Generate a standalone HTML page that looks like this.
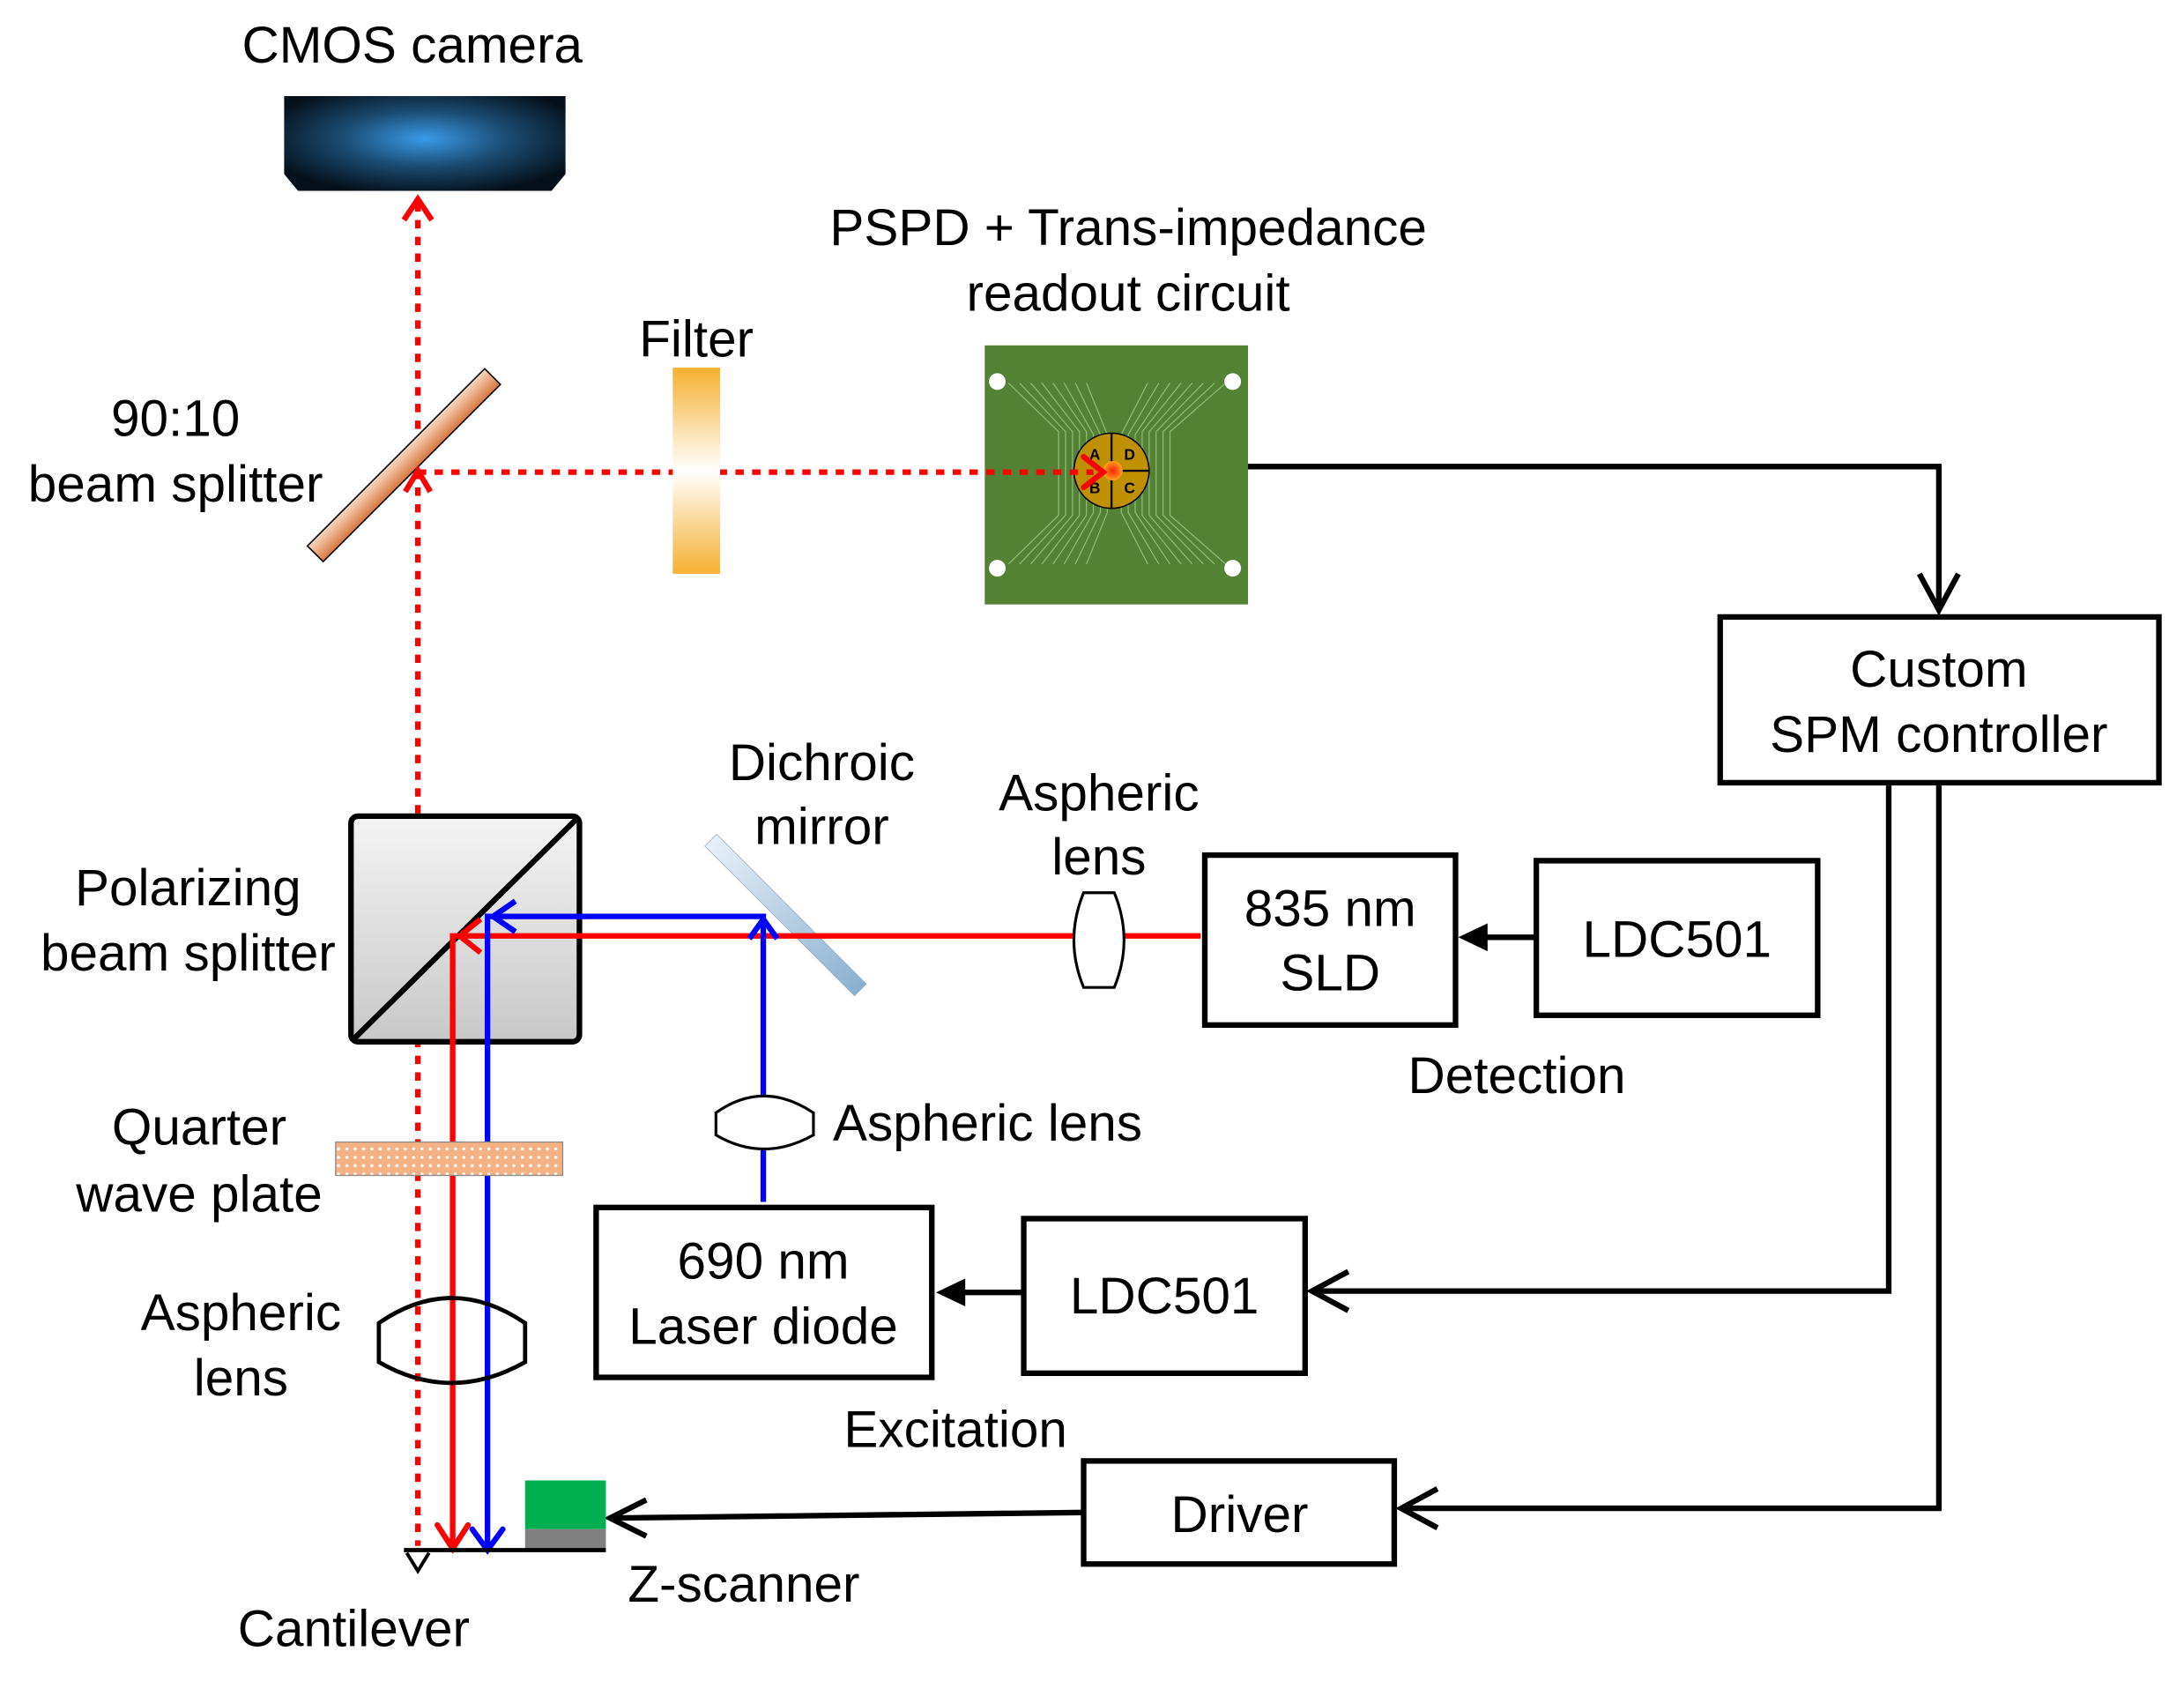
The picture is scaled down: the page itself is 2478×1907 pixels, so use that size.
<!DOCTYPE html>
<html><head><meta charset="utf-8"><style>
html,body{margin:0;padding:0;background:#fff;}
svg{display:block;}
text{font-family:"Liberation Sans",Arial,sans-serif;font-size:37px;fill:#000;text-anchor:middle;}
</style></head><body>
<svg width="2478" height="1907" viewBox="0 0 1568 1207" preserveAspectRatio="none" xmlns="http://www.w3.org/2000/svg">
<defs>
<radialGradient id="cam" cx="0.5" cy="0.45" r="0.6">
<stop offset="0" stop-color="#3a9ae8"/><stop offset="0.5" stop-color="#1a4a70"/><stop offset="1" stop-color="#05101a"/>
</radialGradient>
<linearGradient id="bs" x1="0" y1="0" x2="0" y2="1">
<stop offset="0" stop-color="#f8d8c0"/><stop offset="1" stop-color="#d87840"/>
</linearGradient>
<linearGradient id="filt" x1="0" y1="0" x2="0" y2="1">
<stop offset="0" stop-color="#f5b030"/><stop offset="0.5" stop-color="#ffffff"/><stop offset="1" stop-color="#f5b030"/>
</linearGradient>
<linearGradient id="cube" x1="0" y1="0" x2="0" y2="1">
<stop offset="0" stop-color="#f4f4f4"/><stop offset="1" stop-color="#c8c8c8"/>
</linearGradient>
<linearGradient id="dm" x1="0" y1="0" x2="1" y2="0">
<stop offset="0" stop-color="#e8f0f8"/><stop offset="1" stop-color="#8ab0d0"/>
</linearGradient>
<radialGradient id="spot"><stop offset="0" stop-color="#ff2000"/><stop offset="1" stop-color="#ffa020"/></radialGradient>
<pattern id="dots" width="6" height="6" patternUnits="userSpaceOnUse"><rect width="6" height="6" fill="#f4b183"/><circle cx="3" cy="3" r="1.1" fill="#fff"/></pattern>
</defs>

<text x="296" y="45">CMOS camera</text>
<path d="M204,69 H406 V125 L396,137 H214 L204,125 Z" fill="url(#cam)"/>

<line x1="300" y1="146" x2="300" y2="1110" stroke="#f00" stroke-width="4" stroke-dasharray="6,6"/>
<polyline points="290,158 300,143 310,158" fill="none" stroke="#f00" stroke-width="4"/>

<g transform="translate(290,334) rotate(-45)"><rect x="-90" y="-8" width="180" height="16" fill="url(#bs)" stroke="#000" stroke-width="1"/></g>
<text x="126" y="313">90:10</text>
<text x="126" y="360">beam splitter</text>
<polyline points="291,353 300,338 309,353" fill="none" stroke="#f00" stroke-width="4"/>

<text x="500" y="256">Filter</text>

<text x="810" y="176">PSPD + Trans-impedance</text>
<text x="810" y="223">readout circuit</text>
<rect x="707" y="248" width="189" height="186" fill="#548235"/>
<g stroke="#a9d18e" stroke-width="0.7" fill="none" opacity="0.8">
<path d="M740,275 L770,310 V370 L740,405 M748,275 L775,310 V370 L748,405 M756,275 L780,310 V370 L756,405 M764,275 L785,312 V368 L764,405 M772,275 L790,312 V368 L772,405 M780,275 L795,312 V368 L780,405 M732,275 L765,310 V370 L732,405 M724,275 L760,310 V370 L724,405"/>
<path d="M864,275 L830,310 V370 L864,405 M856,275 L825,310 V370 L856,405 M848,275 L820,310 V370 L848,405 M840,275 L815,312 V368 L840,405 M832,275 L810,312 V368 L832,405 M824,275 L805,312 V368 L824,405 M872,275 L835,310 V370 L872,405 M880,275 L840,310 V370 L880,405"/>
</g>
<circle cx="716" cy="274" r="6" fill="#fff"/><circle cx="885" cy="274" r="6" fill="#fff"/>
<circle cx="716" cy="408" r="6" fill="#fff"/><circle cx="885" cy="408" r="6" fill="#fff"/>
<circle cx="798" cy="338" r="27" fill="#bf9000" stroke="#000" stroke-width="1"/>
<line x1="798" y1="311" x2="798" y2="365" stroke="#000" stroke-width="1.5"/>
<line x1="798" y1="338" x2="825" y2="338" stroke="#000" stroke-width="1.5"/>
<circle cx="799" cy="338" r="7" fill="url(#spot)"/>
<text x="786" y="330" style="font-size:11px;font-weight:bold">A</text>
<text x="811" y="330" style="font-size:11px;font-weight:bold">D</text>
<text x="786" y="354" style="font-size:11px;font-weight:bold">B</text>
<text x="811" y="354" style="font-size:11px;font-weight:bold">C</text>

<line x1="300" y1="339" x2="785" y2="339" stroke="#f00" stroke-width="4" stroke-dasharray="6,6"/>
<polyline points="778,328 792,339 778,350" fill="none" stroke="#f00" stroke-width="4" stroke-linecap="round"/>
<rect x="483" y="264" width="34" height="148" fill="url(#filt)"/>

<polyline points="896,335 1392,335 1392,438" fill="none" stroke="#000" stroke-width="4"/>
<polyline points="1378,412 1392,438 1406,412" fill="none" stroke="#000" stroke-width="4"/>

<rect x="1235" y="443" width="315" height="119" fill="none" stroke="#000" stroke-width="4"/>
<text x="1392" y="493">Custom</text>
<text x="1392" y="540">SPM controller</text>
<polyline points="1356,564 1356,927 942,927" fill="none" stroke="#000" stroke-width="4"/>
<polyline points="968,913 942,927 968,941" fill="none" stroke="#000" stroke-width="4"/>
<polyline points="1392,564 1392,1083 1006,1083" fill="none" stroke="#000" stroke-width="4"/>
<polyline points="1032,1069 1006,1083 1032,1097" fill="none" stroke="#000" stroke-width="4"/>

<rect x="252" y="586" width="164" height="162" rx="5" fill="url(#cube)" stroke="#000" stroke-width="4"/>
<line x1="254" y1="746" x2="414" y2="588" stroke="#000" stroke-width="4"/>
<text x="135" y="650">Polarizing</text>
<text x="135" y="697">beam splitter</text>

<g transform="translate(564,657) rotate(45)"><rect x="-76" y="-6" width="152" height="12" fill="url(#dm)" stroke="#9ab" stroke-width="0.5"/></g>
<text x="590" y="560">Dichroic</text>
<text x="590" y="606">mirror</text>

<polyline points="862,672 325,672 325,1110" fill="none" stroke="#f00" stroke-width="4"/>
<polyline points="345,660 330,672 345,684" fill="none" stroke="#f00" stroke-width="4"/>
<polyline points="314,1095 325,1112 336,1095" fill="none" stroke="#f00" stroke-width="4" stroke-linecap="round"/>

<polyline points="548,863 548,658 350,658 350,1112" fill="none" stroke="#00f" stroke-width="4"/>
<polyline points="538,674 548,660 558,674" fill="none" stroke="#00f" stroke-width="4"/>
<polyline points="370,647 354,658 370,669" fill="none" stroke="#00f" stroke-width="4"/>
<polyline points="339,1098 350,1113 361,1098" fill="none" stroke="#00f" stroke-width="4" stroke-linecap="round"/>

<path d="M778,641 H800 Q814,675 800,709 H778 Q764,675 778,641 Z" fill="#fff" stroke="#000" stroke-width="2"/>
<text x="789" y="582">Aspheric</text>
<text x="789" y="628">lens</text>

<rect x="865" y="614" width="180" height="122" fill="#fff" stroke="#000" stroke-width="4"/>
<text x="955" y="665">835 nm</text>
<text x="955" y="711">SLD</text>
<rect x="1103" y="618" width="202" height="111" fill="#fff" stroke="#000" stroke-width="4"/>
<text x="1204" y="687">LDC501</text>
<line x1="1103" y1="673" x2="1060" y2="673" stroke="#000" stroke-width="4"/>
<polygon points="1047,673 1068,663 1068,683" fill="#000"/>
<text x="1089" y="785">Detection</text>

<path d="M514,799 Q548,775 584,799 V815 Q548,835 514,815 Z" fill="#fff" stroke="#000" stroke-width="2"/>
<text x="598" y="819" style="text-anchor:start">Aspheric lens</text>

<rect x="428" y="867" width="241" height="122" fill="#fff" stroke="#000" stroke-width="4"/>
<text x="548" y="918">690 nm</text>
<text x="548" y="965">Laser diode</text>
<rect x="735" y="875" width="202" height="111" fill="#fff" stroke="#000" stroke-width="4"/>
<text x="836" y="943">LDC501</text>
<line x1="735" y1="928" x2="686" y2="928" stroke="#000" stroke-width="4"/>
<polygon points="672,928 693,918 693,938" fill="#000"/>
<text x="686" y="1039">Excitation</text>

<rect x="241" y="820" width="163" height="24" fill="url(#dots)" stroke="#888" stroke-width="0.8"/>
<text x="143" y="822">Quarter</text>
<text x="143" y="870">wave plate</text>

<path d="M272,950 Q324,914 377,950 V978 Q324,1008 272,978 Z" fill="none" stroke="#000" stroke-width="3"/>
<text x="173" y="955">Aspheric</text>
<text x="173" y="1002">lens</text>

<rect x="778" y="1049" width="223" height="74" fill="#fff" stroke="#000" stroke-width="4"/>
<text x="890" y="1100">Driver</text>
<line x1="778" y1="1086" x2="440" y2="1090" stroke="#000" stroke-width="4"/>
<polyline points="464,1077 438,1090 464,1103" fill="none" stroke="#000" stroke-width="4"/>

<rect x="377" y="1063" width="58" height="35" fill="#00b050"/>
<rect x="377" y="1098" width="58" height="15" fill="#808080"/>
<line x1="290" y1="1113" x2="435" y2="1113" stroke="#000" stroke-width="3"/>
<polyline points="292,1115 300,1128 308,1115" fill="none" stroke="#000" stroke-width="2.5"/>
<text x="534" y="1150">Z-scanner</text>
<text x="254" y="1182">Cantilever</text>
</svg>
</body></html>
